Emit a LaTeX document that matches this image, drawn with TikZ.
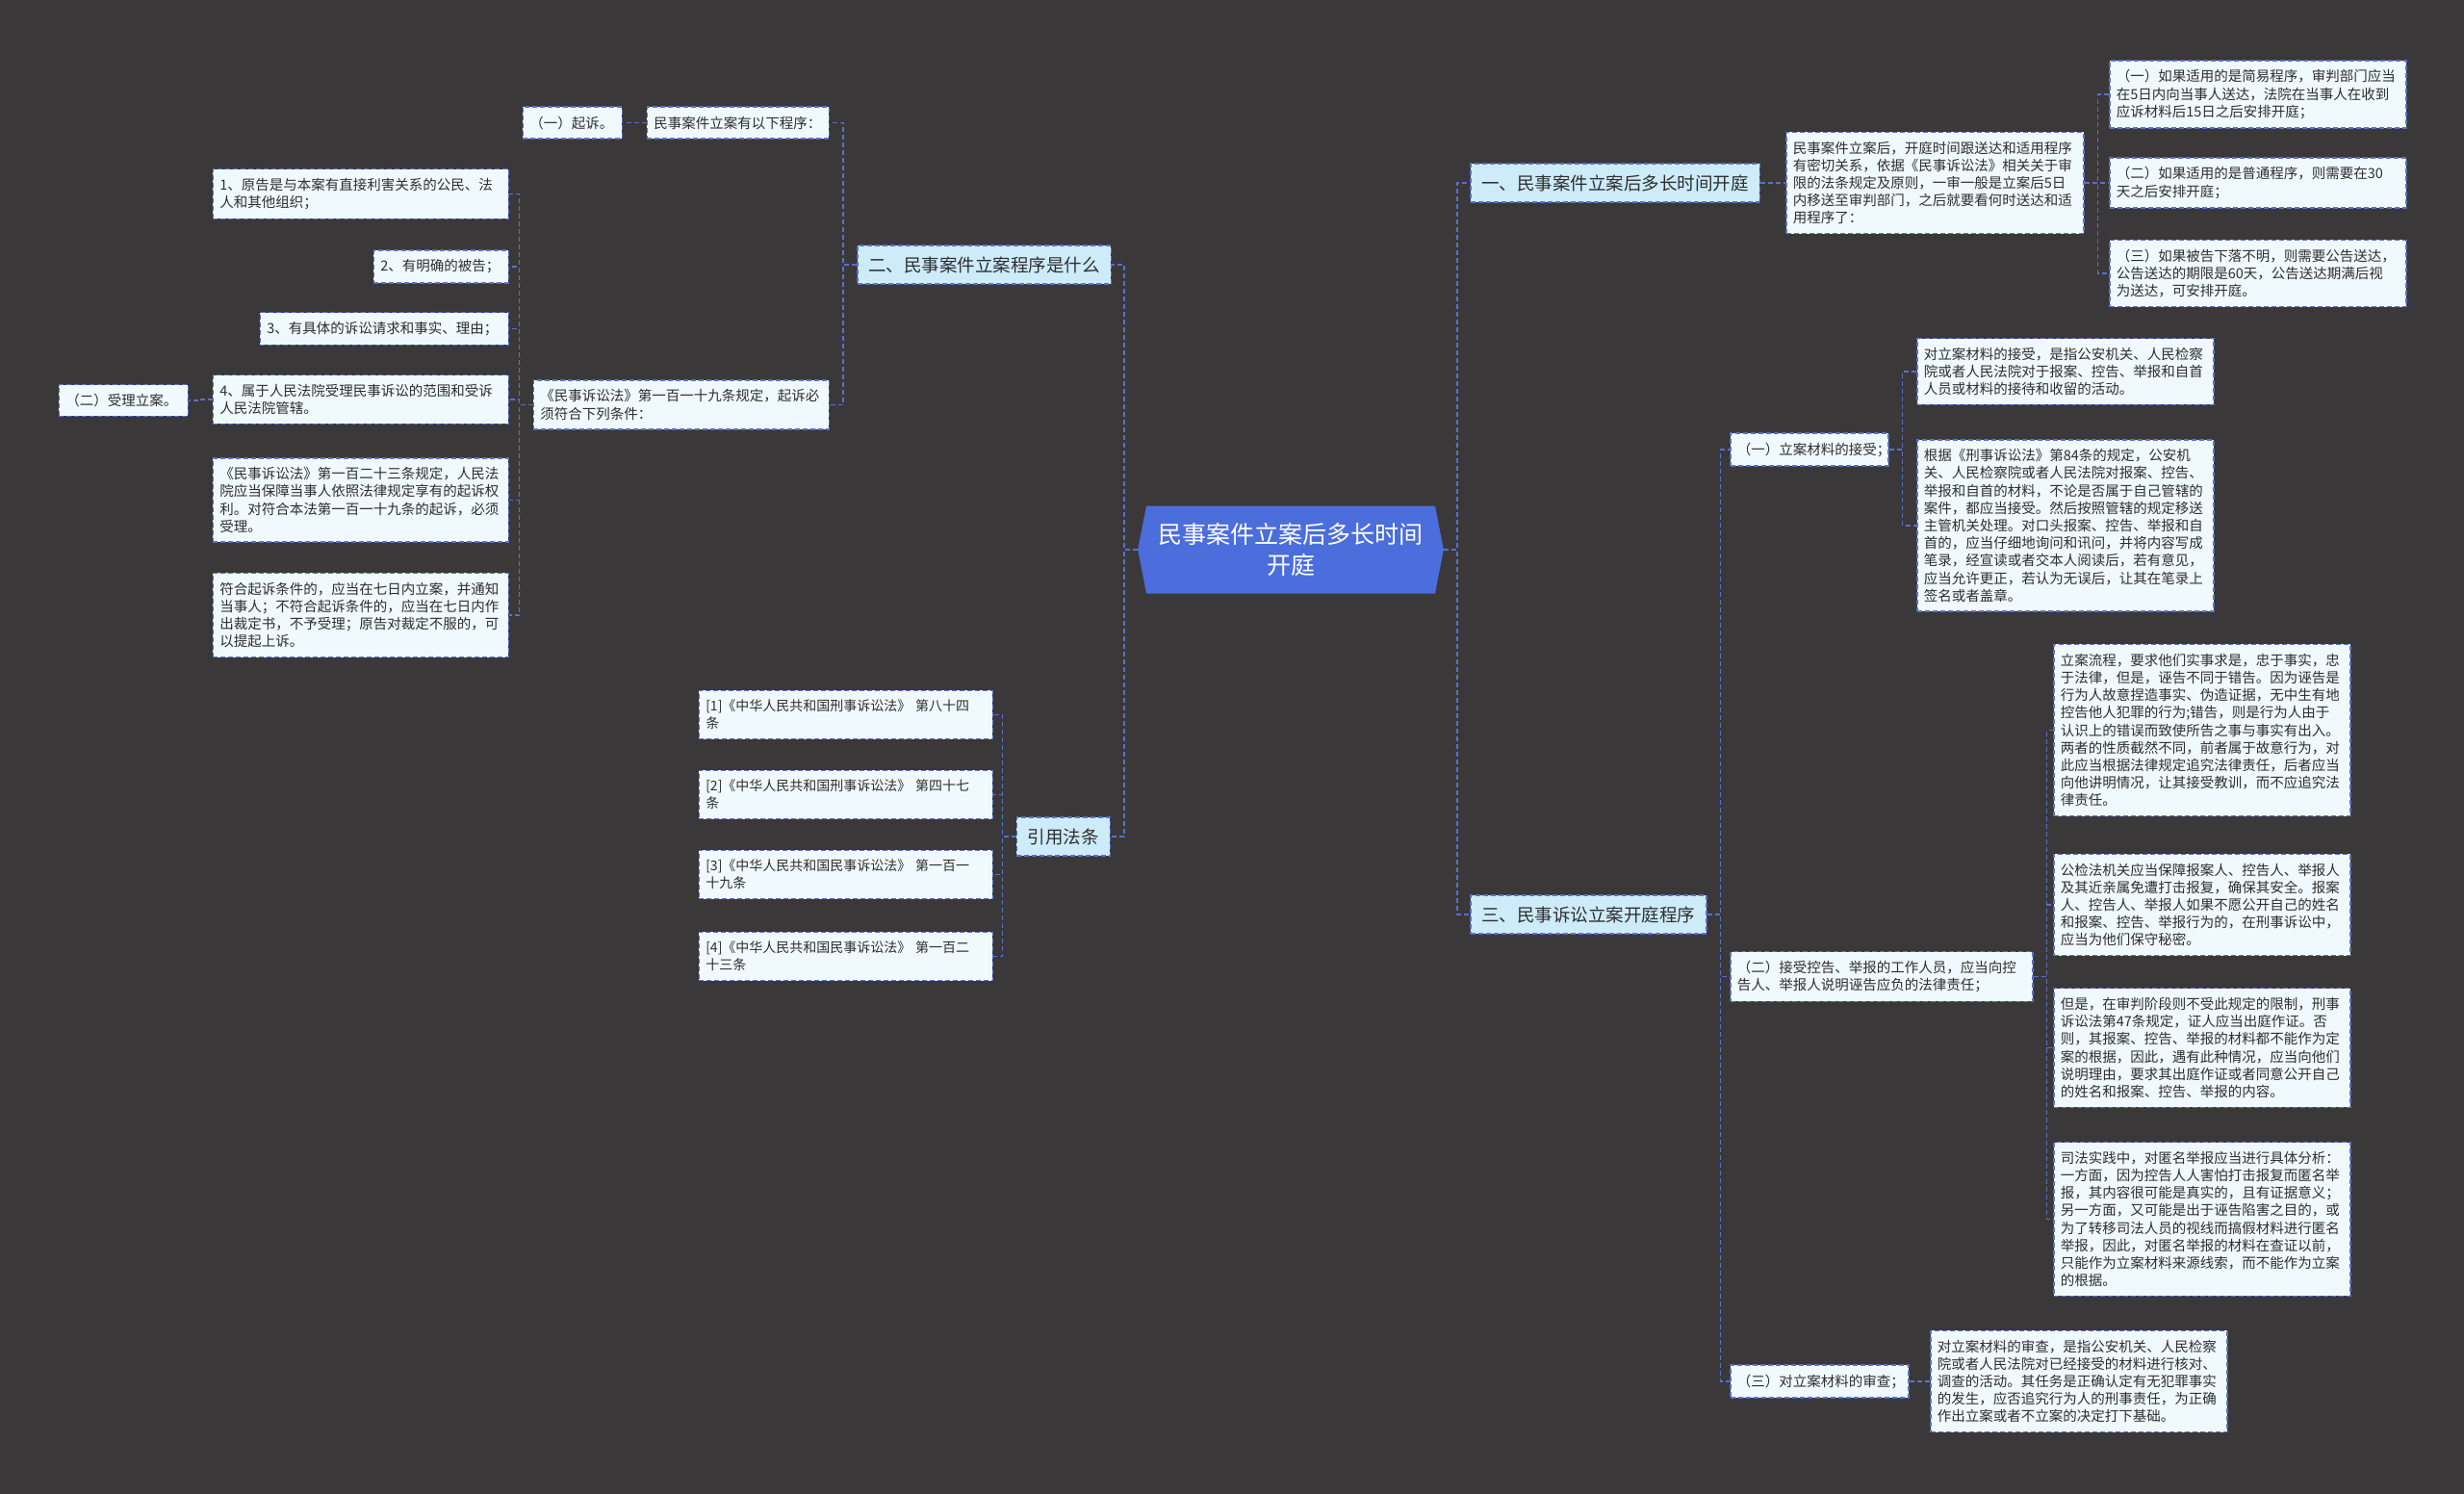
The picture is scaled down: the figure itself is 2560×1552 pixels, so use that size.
\documentclass[tikz,border=0pt]{standalone}
\usepackage{fontspec}
\setmainfont{Noto Sans CJK SC}
\usepackage{tikz}
\usetikzlibrary{shapes.symbols, positioning}
\definecolor{bggray}{HTML}{3A3839}
\definecolor{linkblue}{HTML}{5A70C8}
\definecolor{rootblue}{HTML}{4B6EDC}
\definecolor{branchblue}{HTML}{CDEBF9}
\definecolor{leafwhite}{HTML}{F0F9FD}
\definecolor{inkgray}{HTML}{2E2E2E}
\tikzset{
	rootnode/.style={
			shape=signal,
			signal to=east and west,
			signal pointer angle=158,
			fill=rootblue,
			text=white,
			font=\fontsize{25}{32}\selectfont,
			align=center,
			text width=280pt,
			inner xsep=10pt,
			minimum height=91pt
		},
	branchnode/.style={
			draw=linkblue,
			fill=branchblue,
			line width=1.5pt,
			dash pattern=on 5pt off 3pt,
			text=inkgray,
			font=\fontsize{18.5}{23}\selectfont,
			inner sep=11.5pt
		},
	leafnode/.style={
			draw=linkblue,
			fill=leafwhite,
			line width=1.5pt,
			dash pattern=on 5pt off 3pt,
			text=inkgray,
			font=\fontsize{14.5}{18.2}\selectfont,
			align=left,
			text width=294pt,
			inner xsep=7pt,
			inner ysep=9.5pt
		},
	dashlink/.style={
			draw=linkblue,
			line width=1.5pt,
			dash pattern=on 5pt off 3pt
		}
}

\begin{document}
\begin{tikzpicture}[x=1pt, y=-1pt]

\fill[bggray] (0,0) rectangle (2560,1552);
\useasboundingbox (0,0) rectangle (2560,1552);

\node[rootnode] (tRoot) at (1341,571) {民事案件立案后多长时间\\开庭};

% left side
\node[branchnode, anchor=east] (tTwo) at (1155,275) {二、民事案件立案程序是什么};
\node[branchnode, anchor=east] (tCite) at (1154,869) {引用法条};

\node[leafnode, anchor=east, text width=175pt] (tTwoA) at (862,127.5) {民事案件立案有以下程序：};
\node[leafnode, anchor=east, text width=89pt] (tTwoA1) at (647,127.5) {（一）起诉。};
\node[leafnode, anchor=east, text width=293pt] (tTwoB) at (862,420.5) {《民事诉讼法》第一百一十九条规定，起诉必\\须符合下列条件：};

\node[leafnode, anchor=east, text width=293pt] (tTwoB1) at (529,201.5) {1、原告是与本案有直接利害关系的公民、法\\人和其他组织；};
\node[leafnode, anchor=east, text width=126pt] (tTwoB2) at (529,277) {2、有明确的被告；};
\node[leafnode, anchor=east, text width=244pt] (tTwoB3) at (529,341.5) {3、有具体的诉讼请求和事实、理由；};
\node[leafnode, anchor=east, text width=293pt] (tTwoB4) at (529,415) {4、属于人民法院受理民事诉讼的范围和受诉\\人民法院管辖。};
\node[leafnode, anchor=east, text width=293pt] (tTwoB5) at (529,519.5) {《民事诉讼法》第一百二十三条规定，人民法\\院应当保障当事人依照法律规定享有的起诉权\\利。对符合本法第一百一十九条的起诉，必须\\受理。};
\node[leafnode, anchor=east, text width=293pt] (tTwoB6) at (529,639) {符合起诉条件的，应当在七日内立案，并通知\\当事人；不符合起诉条件的，应当在七日内作\\出裁定书，不予受理；原告对裁定不服的，可\\以提起上诉。};
\node[leafnode, anchor=east, text width=120pt] (tTwoB4a) at (196,416) {（二）受理立案。};

\node[leafnode, anchor=east, text width=291pt, font=\fontsize{14}{18.2}\selectfont] (tCite1) at (1032,742.5) {[1]《中华人民共和国刑事诉讼法》 第八十四\\条};
\node[leafnode, anchor=east, text width=291pt, font=\fontsize{14}{18.2}\selectfont] (tCite2) at (1032,825.5) {[2]《中华人民共和国刑事诉讼法》 第四十七\\条};
\node[leafnode, anchor=east, text width=291pt, font=\fontsize{14}{18.2}\selectfont] (tCite3) at (1032,908.5) {[3]《中华人民共和国民事诉讼法》 第一百一\\十九条};
\node[leafnode, anchor=east, text width=291pt, font=\fontsize{14}{18.2}\selectfont] (tCite4) at (1032,993.5) {[4]《中华人民共和国民事诉讼法》 第一百二\\十三条};

% right side
\node[branchnode, anchor=west] (tOne) at (1527,190) {一、民事案件立案后多长时间开庭};
\node[branchnode, anchor=west] (tThree) at (1527,950) {三、民事诉讼立案开庭程序};

\node[leafnode, anchor=west, text width=295pt] (tOneA) at (1855,190) {民事案件立案后，开庭时间跟送达和适用程序\\有密切关系，依据《民事诉讼法》相关关于审\\限的法条规定及原则，一审一般是立案后5日\\内移送至审判部门，之后就要看何时送达和适\\用程序了：};
\node[leafnode, anchor=west] (tOneA1) at (2191,98) {（一）如果适用的是简易程序，审判部门应当\\在5日内向当事人送达，法院在当事人在收到\\应诉材料后15日之后安排开庭；};
\node[leafnode, anchor=west] (tOneA2) at (2191,190) {（二）如果适用的是普通程序，则需要在30\\天之后安排开庭；};
\node[leafnode, anchor=west] (tOneA3) at (2191,284) {（三）如果被告下落不明，则需要公告送达，\\公告送达的期限是60天，公告送达期满后视\\为送达，可安排开庭。};

\node[leafnode, anchor=west, text width=150pt] (tThA) at (1797,467) {（一）立案材料的接受；};
\node[leafnode, anchor=west] (tThA1) at (1991,386) {对立案材料的接受，是指公安机关、人民检察\\院或者人民法院对于报案、控告、举报和自首\\人员或材料的接待和收留的活动。};
\node[leafnode, anchor=west] (tThA2) at (1991,546) {根据《刑事诉讼法》第84条的规定，公安机\\关、人民检察院或者人民法院对报案、控告、\\举报和自首的材料，不论是否属于自己管辖的\\案件，都应当接受。然后按照管辖的规定移送\\主管机关处理。对口头报案、控告、举报和自\\首的，应当仔细地询问和讯问，并将内容写成\\笔录，经宣读或者交本人阅读后，若有意见，\\应当允许更正，若认为无误后，让其在笔录上\\签名或者盖章。};

\node[leafnode, anchor=west, text width=300pt] (tThB) at (1797,1014.5) {（二）接受控告、举报的工作人员，应当向控\\告人、举报人说明诬告应负的法律责任；};
\node[leafnode, anchor=west] (tThB1) at (2133,758.5) {立案流程，要求他们实事求是，忠于事实，忠\\于法律，但是，诬告不同于错告。因为诬告是\\行为人故意捏造事实、伪造证据，无中生有地\\控告他人犯罪的行为;错告，则是行为人由于\\认识上的错误而致使所告之事与事实有出入。\\两者的性质截然不同，前者属于故意行为，对\\此应当根据法律规定追究法律责任，后者应当\\向他讲明情况，让其接受教训，而不应追究法\\律责任。};
\node[leafnode, anchor=west] (tThB2) at (2133,940) {公检法机关应当保障报案人、控告人、举报人\\及其近亲属免遭打击报复，确保其安全。报案\\人、控告人、举报人如果不愿公开自己的姓名\\和报案、控告、举报行为的，在刑事诉讼中，\\应当为他们保守秘密。};
\node[leafnode, anchor=west] (tThB3) at (2133,1088.5) {但是，在审判阶段则不受此规定的限制，刑事\\诉讼法第47条规定，证人应当出庭作证。否\\则，其报案、控告、举报的材料都不能作为定\\案的根据，因此，遇有此种情况，应当向他们\\说明理由，要求其出庭作证或者同意公开自己\\的姓名和报案、控告、举报的内容。};
\node[leafnode, anchor=west] (tThB4) at (2133,1266.5) {司法实践中，对匿名举报应当进行具体分析：\\一方面，因为控告人人害怕打击报复而匿名举\\报，其内容很可能是真实的，且有证据意义；\\另一方面，又可能是出于诬告陷害之目的，或\\为了转移司法人员的视线而搞假材料进行匿名\\举报，因此，对匿名举报的材料在查证以前，\\只能作为立案材料来源线索，而不能作为立案\\的根据。};

\node[leafnode, anchor=west, text width=171pt] (tThC) at (1797,1435) {（三）对立案材料的审查；};
\node[leafnode, anchor=west] (tThC1) at (2005,1435) {对立案材料的审查，是指公安机关、人民检察\\院或者人民法院对已经接受的材料进行核对、\\调查的活动。其任务是正确认定有无犯罪事实\\的发生，应否追究行为人的刑事责任，为正确\\作出立案或者不立案的决定打下基础。};

% links, left
\draw[dashlink] (tRoot.west) -- ++(-14,0) |- (tTwo.east);
\draw[dashlink] (tRoot.west) -- ++(-14,0) |- (tCite.east);
\draw[dashlink] (tTwo.west) -- ++(-14,0) |- (tTwoA.east);
\draw[dashlink] (tTwo.west) -- ++(-14,0) |- (tTwoB.east);
\draw[dashlink] (tTwoA.west) -- ++(-14,0) |- (tTwoA1.east);
\draw[dashlink] (tTwoB.west) -- ++(-14,0) |- (tTwoB1.east);
\draw[dashlink] (tTwoB.west) -- ++(-14,0) |- (tTwoB2.east);
\draw[dashlink] (tTwoB.west) -- ++(-14,0) |- (tTwoB3.east);
\draw[dashlink] (tTwoB.west) -- ++(-14,0) |- (tTwoB4.east);
\draw[dashlink] (tTwoB.west) -- ++(-14,0) |- (tTwoB5.east);
\draw[dashlink] (tTwoB.west) -- ++(-14,0) |- (tTwoB6.east);
\draw[dashlink] (tTwoB4.west) -- ++(-14,0) |- (tTwoB4a.east);
\draw[dashlink] (tCite.west) -- ++(-14,0) |- (tCite1.east);
\draw[dashlink] (tCite.west) -- ++(-14,0) |- (tCite2.east);
\draw[dashlink] (tCite.west) -- ++(-14,0) |- (tCite3.east);
\draw[dashlink] (tCite.west) -- ++(-14,0) |- (tCite4.east);

% links, right
\draw[dashlink] (tRoot.east) -- ++(14,0) |- (tOne.west);
\draw[dashlink] (tRoot.east) -- ++(14,0) |- (tThree.west);
\draw[dashlink] (tOne.east) -- ++(14,0) |- (tOneA.west);
\draw[dashlink] (tOneA.east) -- ++(14,0) |- (tOneA1.west);
\draw[dashlink] (tOneA.east) -- ++(14,0) |- (tOneA2.west);
\draw[dashlink] (tOneA.east) -- ++(14,0) |- (tOneA3.west);
\draw[dashlink] (tThree.east) -- ++(14,0) |- (tThA.west);
\draw[dashlink] (tThree.east) -- ++(14,0) |- (tThB.west);
\draw[dashlink] (tThree.east) -- ++(14,0) |- (tThC.west);
\draw[dashlink] (tThA.east) -- ++(14,0) |- (tThA1.west);
\draw[dashlink] (tThA.east) -- ++(14,0) |- (tThA2.west);
\draw[dashlink] (tThB.east) -- ++(14,0) |- (tThB1.west);
\draw[dashlink] (tThB.east) -- ++(14,0) |- (tThB2.west);
\draw[dashlink] (tThB.east) -- ++(14,0) |- (tThB3.west);
\draw[dashlink] (tThB.east) -- ++(14,0) |- (tThB4.west);
\draw[dashlink] (tThC.east) -- ++(14,0) |- (tThC1.west);

\end{tikzpicture}
\end{document}
